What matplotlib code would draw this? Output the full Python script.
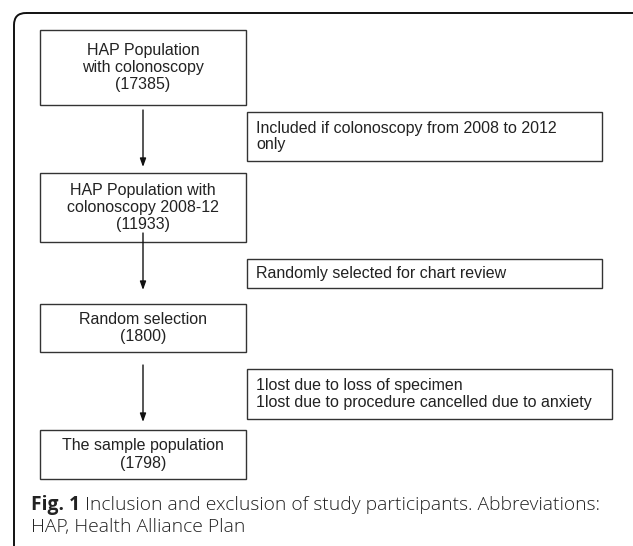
import matplotlib
matplotlib.use("Agg")
import matplotlib.pyplot as plt
from matplotlib.patches import Rectangle, FancyBboxPatch

main_labels = [
    "HAP Population\nwith colonoscopy\n(17385)",
    "HAP Population with\ncolonoscopy 2008-12\n(11933)",
    "Random selection\n(1800)",
    "The sample population\n(1798)",
]
side_labels = [
    "Included if colonoscopy from 2008 to 2012\nonly",
    "Randomly selected for chart review",
    "1lost due to loss of specimen\n1lost due to procedure cancelled due to anxiety",
]
caption_bold = "Fig. 1"
caption_text = " Inclusion and exclusion of study participants. Abbreviations:"
caption_line2 = "HAP, Health Alliance Plan"

# layout (pixel coordinates, y downward)
main_boxes = [(40, 30, 206, 75), (40, 173, 206, 69), (40, 304, 206, 48), (40, 430, 206, 49)]
side_boxes = [(247, 112, 355, 49), (247, 259, 355, 29), (247, 369, 365, 50)]
arrows = [(110, 167), (233, 290), (365, 422)]
arrow_x = 143

W, H = 633, 546
fig = plt.figure(figsize=(W / 100, H / 100), dpi=100)
ax = fig.add_axes([0, 0, 1, 1])
ax.set_xlim(0, W)
ax.set_ylim(H, 0)
ax.axis("off")

# outer frame (rounded top-left corner, extends beyond the image)
frame = FancyBboxPatch((14, 13), 700, 600, boxstyle="round,pad=0,rounding_size=12",
                       fill=False, edgecolor="#111111", linewidth=1.4)
ax.add_patch(frame)

font = "Liberation Sans"
fs = 11.5
for (x, y, w, h), lab in zip(main_boxes, main_labels):
    ax.add_patch(Rectangle((x, y), w, h, fill=False, edgecolor="#333333", linewidth=1.0))
    ax.text(x + w / 2, y + h / 2, lab, ha="center", va="center", family=font,
            fontsize=fs, color="#222222", linespacing=1.2)

for (x, y, w, h), lab in zip(side_boxes, side_labels):
    ax.add_patch(Rectangle((x, y), w, h, fill=False, edgecolor="#333333", linewidth=1.0))
    ax.text(x + 9, y + h / 2, lab, ha="left", va="center", family=font,
            fontsize=fs, color="#222222", linespacing=1.15)

for y0, y1 in arrows:
    ax.annotate("", xy=(arrow_x, y1), xytext=(arrow_x, y0),
                arrowprops=dict(arrowstyle="-|>,head_length=0.5,head_width=0.18",
                                color="#111111", lw=1.0, shrinkA=0, shrinkB=0))

# caption
cfs = 13.9
t = ax.text(31, 505, caption_bold, ha="left", va="center", family="Open Sans",
            fontsize=cfs, fontweight="bold", color="#222222")
fig.canvas.draw()
bb = t.get_window_extent()
x_end = ax.transData.inverted().transform((bb.x1, bb.y0))[0]
ax.text(x_end, 505, caption_text, ha="left", va="center", family="Open Sans",
        fontsize=cfs, fontweight="light", color="#222222")
ax.text(31, 527, caption_line2, ha="left", va="center", family="Open Sans",
        fontsize=cfs, fontweight="light", color="#222222")

fig.savefig("out.png", dpi=100)
